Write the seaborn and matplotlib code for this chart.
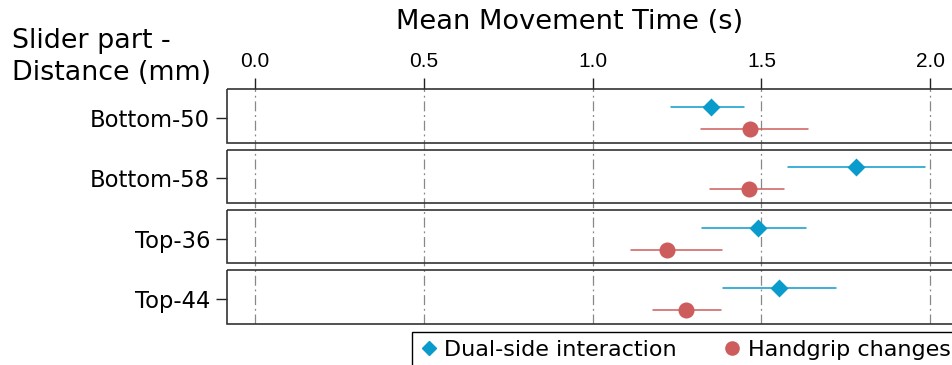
import matplotlib
matplotlib.use("Agg")
import matplotlib.pyplot as plt
from matplotlib.patches import Rectangle
from matplotlib.lines import Line2D
from matplotlib.transforms import blended_transform_factory
import pandas as pd
import seaborn as sns

# Slider conditions (rows, top to bottom)
sliders = ["Bottom-50", "Bottom-58", "Top-36", "Top-44"]
methods = ["Dual-side interaction", "Handgrip changes"]

# Mean movement time (s) with lower / upper interval bounds
dual_mean = [1.351, 1.781, 1.489, 1.551]
dual_low = [1.231, 1.578, 1.325, 1.387]
dual_high = [1.448, 1.984, 1.631, 1.720]

grip_mean = [1.466, 1.464, 1.219, 1.276]
grip_low = [1.320, 1.347, 1.115, 1.179]
grip_high = [1.638, 1.567, 1.383, 1.381]

x_ticks = [0.0, 0.5, 1.0, 1.5, 2.0]
x_tick_labels = ["0.0", "0.5", "1.0", "1.5", "2.0"]

blue = "#0A9BCD"
red = "#CD5C5C"

# Long table: each condition contributes its low bound, mean and high bound.
# The median of the three is the mean; the 0-100 percentile range spans the interval.
rows = []
for method, lows, means, highs in [
    (methods[0], dual_low, dual_mean, dual_high),
    (methods[1], grip_low, grip_mean, grip_high),
]:
    for s, lo, m, hi in zip(sliders, lows, means, highs):
        for v in (lo, m, hi):
            rows.append({"slider": s, "method": method, "time": v})
df = pd.DataFrame(rows)

sns.set_theme(style="white", rc={
    "text.color": "black",
    "axes.labelcolor": "black",
    "xtick.color": "black",
    "ytick.color": "black",
})
plt.rcParams["font.family"] = ["DejaVu Sans"]

fig = plt.figure(figsize=(9.53, 3.65), dpi=100)
ax = fig.add_axes([227 / 953, 1 - 323.6 / 365, 737 / 953, 234.3 / 365])

sns.pointplot(
    data=df, x="time", y="slider", hue="method",
    order=sliders, hue_order=methods,
    palette=[blue, red], markers=["D", "o"], linestyle="none",
    estimator="median", errorbar=("pi", 100),
    dodge=0.365, orient="h", legend=False,
    markersize=9.5, zorder=4,
    err_kws={"linewidth": 1.1, "zorder": 3},
    ax=ax,
)

# Diamonds read larger than circles at equal size; shrink them a bit
for ln in ax.lines:
    if ln.get_marker() == "D":
        ln.set_markersize(7.2)

ax.set_xlim(-0.083, 2.1)
ax.set_ylim(3.41, -0.476)

# One framed band per slider condition
trans = blended_transform_factory(ax.transAxes, ax.transData)
for i in range(len(sliders)):
    ax.add_patch(Rectangle((0, i - 0.476), 1.0, 0.886, transform=trans,
                           fill=False, edgecolor="#333333", linewidth=1.2,
                           clip_on=False, zorder=2))

for sp in ax.spines.values():
    sp.set_visible(False)

ax.set_xticks(x_ticks)
ax.set_xticklabels(x_tick_labels, fontfamily="Liberation Sans", fontsize=15)
ax.xaxis.tick_top()
ax.tick_params(axis="x", top=True, bottom=False, labeltop=True, labelbottom=False,
               length=8, width=1, color="#222222", pad=5)
ax.tick_params(axis="y", left=True, length=8, width=1, color="#222222", pad=4.2,
               labelsize=16.3)
ax.set_xlabel("")
ax.set_ylabel("")
ax.xaxis.grid(True, color="#888888", linewidth=0.9, linestyle=(0, (8, 3, 1.5, 3)))
ax.yaxis.grid(False)
ax.set_axisbelow(True)

fig.text(570 / 953, 1 - 22 / 365, "Mean Movement Time (s)", ha="center", va="center",
         fontsize=19.6)
fig.text(12 / 953, 1 - 48.5 / 365, "Slider part -", ha="left", va="baseline", fontsize=19.4)
fig.text(12 / 953, 1 - 80 / 365, "Distance (mm)", ha="left", va="baseline", fontsize=19.4)

handles = [
    Line2D([], [], marker="D", color=blue, linestyle="none", markersize=7.2),
    Line2D([], [], marker="o", color=red, linestyle="none", markersize=9.5),
]
leg = fig.legend(handles, methods, loc="upper left",
                 bbox_to_anchor=(412 / 953, 1 - 332 / 365), ncol=2,
                 frameon=True, fancybox=False, fontsize=16,
                 handlelength=0.8, handletextpad=0.3, columnspacing=2.1,
                 borderpad=0.35, borderaxespad=0)
leg.get_frame().set_edgecolor("black")
leg.get_frame().set_linewidth(1)
leg.get_frame().set_alpha(1)

fig.savefig("out.png", dpi=100)
